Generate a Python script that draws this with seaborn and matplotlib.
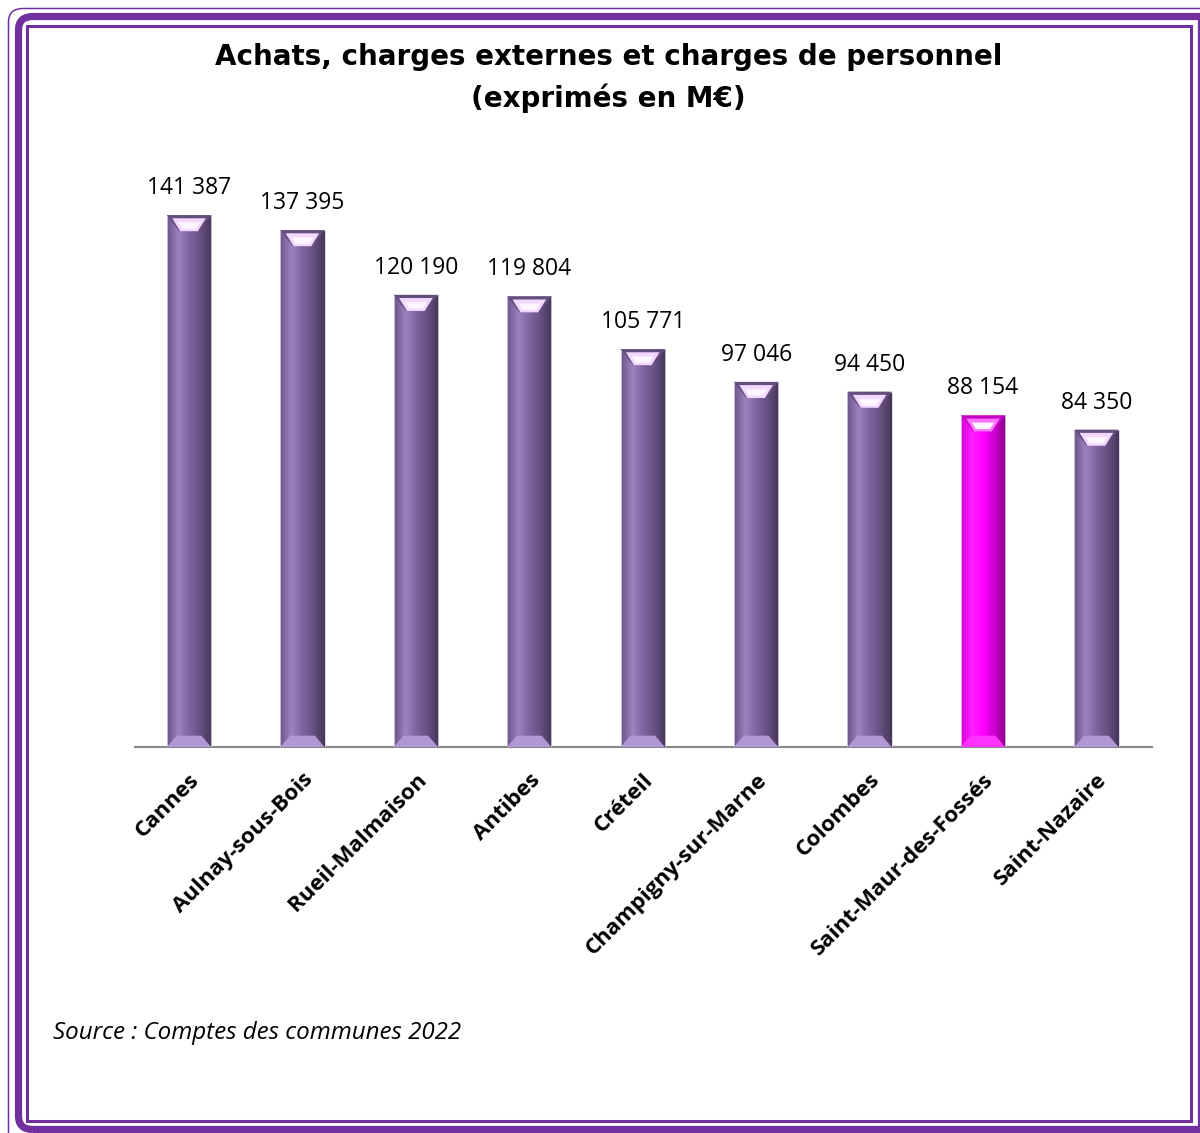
import numpy as np
import pandas as pd
import matplotlib
matplotlib.use('Agg')
import matplotlib.pyplot as plt
import seaborn as sns
from matplotlib.patches import Rectangle, FancyBboxPatch
from matplotlib.lines import Line2D
from matplotlib.colors import LinearSegmentedColormap

# ── Data ─────────────────────────────────────────────────────
communes = ['Cannes', 'Aulnay-sous-Bois', 'Rueil-Malmaison', 'Antibes', 'Créteil',
            'Champigny-sur-Marne', 'Colombes', 'Saint-Maur-des-Fossés', 'Saint-Nazaire']
valeurs = [141387, 137395, 120190, 119804, 105771, 97046, 94450, 88154, 84350]
highlight = 'Saint-Maur-des-Fossés'

df = pd.DataFrame({'commune': communes, 'valeur': valeurs})

PURPLE = '#8064A2'
MAGENTA = '#FF00FF'
BORDER = '#7030A0'
palette = {c: (MAGENTA if c == highlight else PURPLE) for c in communes}

sns.set_style('white')
plt.rcParams['font.family'] = ['Open Sans', 'DejaVu Sans']
plt.rcParams['text.color'] = 'black'
plt.rcParams['xtick.color'] = 'black'

fig = plt.figure(figsize=(12, 11.33), dpi=100)
ax = fig.add_axes([0.1125, 0.3407, 0.8475, 0.5313])

sns.barplot(data=df, x='commune', y='valeur', hue='commune', palette=palette,
            width=0.39, legend=False, ax=ax, saturation=1)

ax.set_xlim(-0.476, 8.49)
ax.set_ylim(0, 160000)

# bevel/gradient effect on each bar
def shade(hex_color):
    base = np.array(matplotlib.colors.to_rgb(hex_color))
    light = np.clip(base + 0.12, 0, 1)
    dark = base * 0.55
    return LinearSegmentedColormap.from_list('b', [base * 0.85, light, base, base * 0.8, dark])

for bar, c, v in zip(ax.patches, communes, valeurs):
    x0, w, h = bar.get_x(), bar.get_width(), bar.get_height()
    grad = np.linspace(0, 1, 64).reshape(1, -1)
    im = ax.imshow(grad, extent=[x0, x0 + w, 0, h], aspect='auto',
                   cmap=shade(palette[c]), zorder=3)
    im.set_clip_path(bar)
    bar.set_edgecolor('#D9D0E6')
    bar.set_linewidth(0.6)
    bar.set_zorder(4)
    bar.set_facecolor('none')
    base = np.array(matplotlib.colors.to_rgb(palette[c]))
    bh = 4300
    # top bevel: darker side wedges with light centre
    ax.fill([x0, x0 + w, x0 + w * 0.72, x0 + w * 0.28], [h, h, h - bh, h - bh],
            color=np.clip(base * 0.78, 0, 1), zorder=5, lw=0)
    ax.fill([x0 + w * 0.12, x0 + w * 0.88, x0 + w * 0.70, x0 + w * 0.30],
            [h - bh * 0.2, h - bh * 0.2, h - bh, h - bh],
            color=np.clip(base + 0.45, 0, 1), zorder=5, lw=0)
    ax.fill([x0 + w * 0.25, x0 + w * 0.75, x0 + w * 0.66, x0 + w * 0.34],
            [h - bh * 0.45, h - bh * 0.45, h - bh * 0.85, h - bh * 0.85],
            color='#FBF6FF', zorder=5, lw=0)
    # bottom bevel
    ax.fill([x0, x0 + w, x0 + w * 0.78, x0 + w * 0.22], [0, 0, bh * 0.7, bh * 0.7],
            color=np.clip(base + 0.2, 0, 1), zorder=5, lw=0)
    ax.text(x0 + w / 2, h + 4000, f'{v:,}'.replace(',', ' '),
            ha='center', va='bottom', fontsize=16.5, color='black')

sns.despine(ax=ax, left=True, top=True, right=True)
ax.spines['bottom'].set_color('#888888')
ax.spines['bottom'].set_linewidth(1.5)
ax.set_yticks([])
ax.set_xlabel('')
ax.set_ylabel('')
ax.tick_params(axis='x', length=0, pad=16)
plt.setp(ax.get_xticklabels(), rotation=45, ha='right', rotation_mode='anchor',
         fontsize=16, fontweight='bold', color='black')

fig.text(0.507, 0.95, 'Achats, charges externes et charges de personnel',
         ha='center', va='center', fontsize=20, fontweight='bold', family='DejaVu Sans')
fig.text(0.507, 0.913, '(exprimés en M€)',
         ha='center', va='center', fontsize=20, fontweight='bold', family='DejaVu Sans')

fig.text(0.044, 0.088, 'Source : Comptes des communes 2022', ha='left', va='center',
         fontsize=17.4, style='italic', color='black')

# ── Frame ────────────────────────────────────────────────────
W, H = 1200, 1133
def frame(x0, y0, x1, y1, lw, rounded=False):
    if rounded:
        p = FancyBboxPatch((x0 / W, 1 - y1 / H), (x1 - x0) / W, (y1 - y0) / H,
                           boxstyle='round,pad=0,rounding_size=0.012',
                           transform=fig.transFigure, fill=False, edgecolor=BORDER, linewidth=lw)
    else:
        p = Rectangle((x0 / W, 1 - y1 / H), (x1 - x0) / W, (y1 - y0) / H,
                      transform=fig.transFigure, fill=False, edgecolor=BORDER, linewidth=lw)
    fig.patches.append(p)

frame(8.5, 8.5, 1260, 1180, 1.1, rounded=True)
frame(18.5, 16.5, 1260, 1129.5, 5.2, rounded=True)
fig.add_artist(Line2D([1200.5 / W, 1200.5 / W], [0, 1 - 16.5 / H],
                      transform=fig.transFigure, color=BORDER, linewidth=5.2))
frame(26.5, 25.5, 1190.5, 1120.5, 2.2)

fig.savefig('out.png', dpi=100)
